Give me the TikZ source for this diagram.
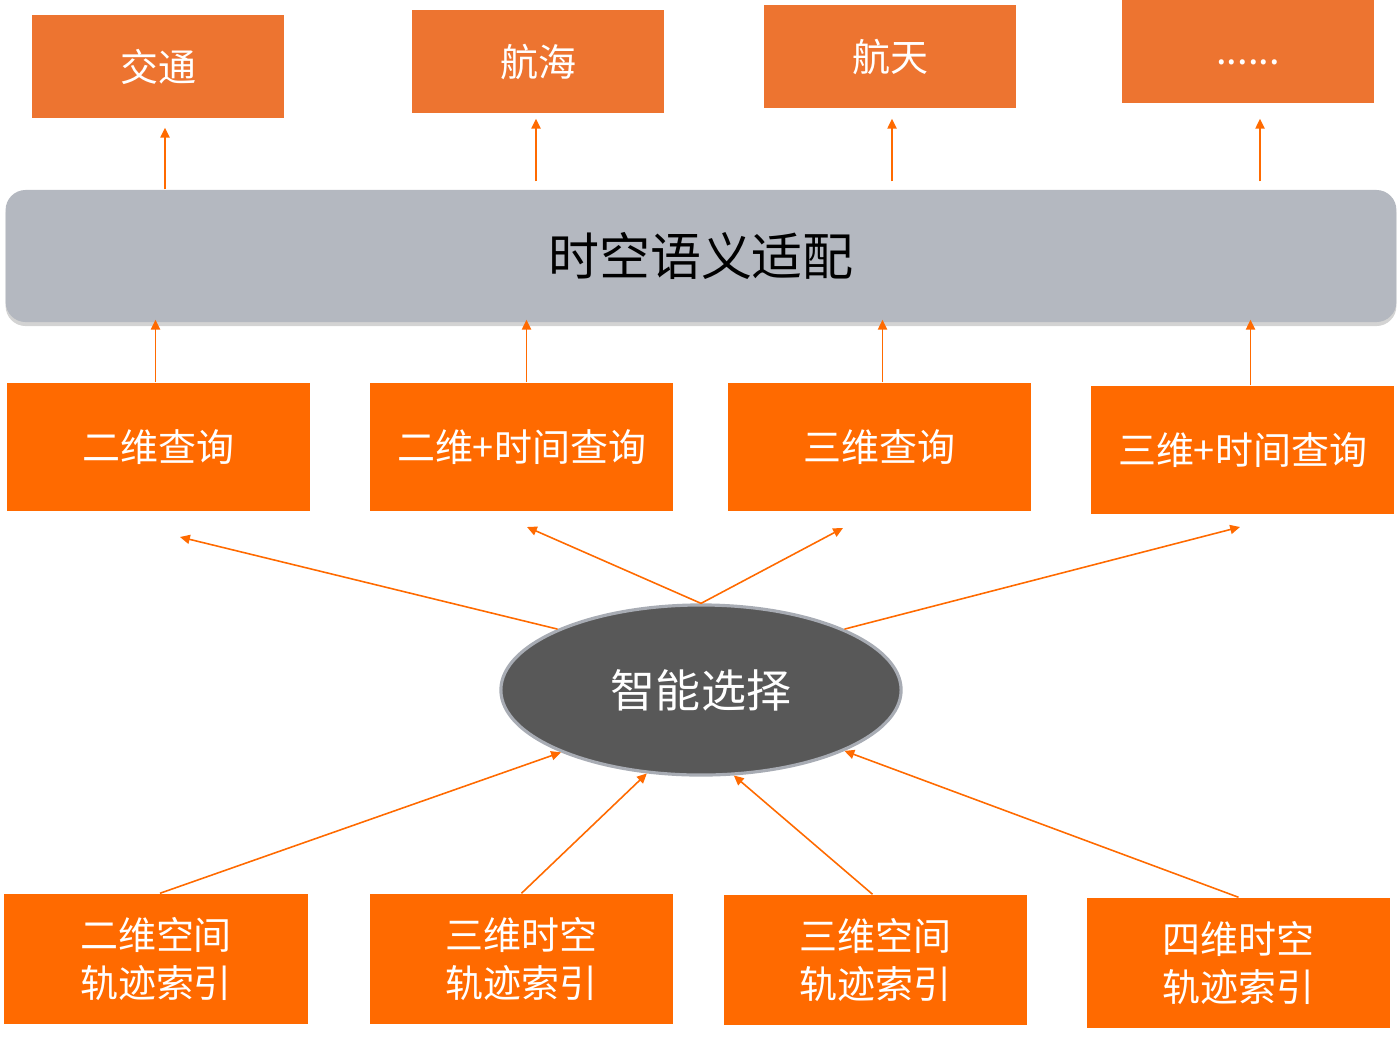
\documentclass[tikz,border=0pt]{standalone}
\usepackage{fontspec}
\newfontfamily\cjk{Noto Sans CJK SC}
\usepackage{xcolor}
\usepackage{tikz}
\usetikzlibrary{arrows.meta,shadows,shapes.geometric}
\definecolor{appor}{HTML}{ED7430}
\definecolor{qor}{HTML}{FF6A00}
\definecolor{bargray}{HTML}{B4B8C0}
\definecolor{selgray}{HTML}{585858}
\definecolor{selrim}{HTML}{A8ACB4}
\tikzset{
  appbox/.style={fill=appor, text=white, inner sep=0pt, minimum width=2.52cm,
    minimum height=1.03cm, font=\cjk\fontsize{10.8}{13}\selectfont},
  qbox/.style={fill=qor, text=white, inner sep=0pt, align=center, minimum width=3.03cm,
    minimum height=1.28cm, font=\cjk\fontsize{10.8}{13.7}\selectfont},
  idxbox/.style={qbox, minimum height=1.3cm},
  adaptbar/.style={fill=bargray, rounded corners=0.2cm, inner sep=0pt, minimum width=13.9cm,
    minimum height=1.32cm, font=\cjk\fontsize{14.5}{17}\selectfont,
    drop shadow={shadow xshift=0pt, shadow yshift=-0.04cm, opacity=0.35}},
  selnode/.style={ellipse, fill=selgray, draw=selrim, line width=0.9pt, inner sep=0pt,
    minimum width=4cm, minimum height=1.7cm, text=white, font=\cjk\fontsize{12.8}{15}\selectfont},
  arr/.style={-{Triangle[length=2.8pt,width=2.6pt]}, line width=0.45pt, draw=qor},
}

\begin{document}
\begin{tikzpicture}[x=0.01cm, y=-0.01cm]
\useasboundingbox (0,0) rectangle (1400,1036);

% application fields
\node[appbox] (t1) at (158,66.5) {交通};
\node[appbox] (t2) at (538,61.5) {航海};
\node[appbox] (t3) at (890,56.5) {航天};
\node[appbox] (t4) at (1248,51.5) {\raisebox{-0.11cm}[\height][\depth]{......}};

\node[adaptbar] (bar) at (701,256) {时空语义适配};

% query types
\node[qbox] (q1) at (158.5,447) {二维查询};
\node[qbox] (q2) at (521.5,447) {二维+时间查询};
\node[qbox] (q3) at (879.5,447) {三维查询};
\node[qbox] (q4) at (1242.5,450) {三维+时间查询};

\node[selnode] (sel) at (701,690) {智能选择};

% trajectory indexes
\node[idxbox] (i1) at (156,959) {二维空间\\轨迹索引};
\node[idxbox] (i2) at (521.5,959) {三维时空\\轨迹索引};
\node[idxbox] (i3) at (875.5,960) {三维空间\\轨迹索引};
\node[idxbox] (i4) at (1238.5,963) {四维时空\\轨迹索引};

\coordinate (q1in) at (180,537);
\coordinate (q2in) at (527,527);
\coordinate (q3in) at (843,528);
\coordinate (q4in) at (1240,527);

\draw[arr, shorten >=0.09cm] ([xshift=0.07cm]t1.south |- bar.north) -- ([xshift=0.07cm]t1.south);
\foreach \t/\dx in {t2/-0.02,t3/0.02,t4/0.12}
  \draw[arr, shorten >=0.05cm, shorten <=0.08cm] ([xshift=\dx cm]\t.south |- bar.north)
    -- ([xshift=\dx cm]\t.south |- t2.south);
\foreach \q/\dx in {q1/-0.03,q2/0.05,q3/0.03,q4/0.08}
  \draw[arr, shorten >=-0.03cm] ([xshift=\dx cm]\q.north) -- ([xshift=\dx cm]\q.north |- bar.south);

\draw[arr] (sel.157) -- (q1in);
\draw[arr] (sel.north) -- (q2in);
\draw[arr] (sel.north) -- (q3in);
\draw[arr] (sel.23) -- (q4in);

\draw[arr] ([xshift=0.04cm]i1.north) -- (sel.204);
\draw[arr] (i2.north) -- (sel.237);
\draw[arr] ([xshift=-0.03cm]i3.north) -- (sel.291);
\draw[arr] (i4.north) -- (sel.337);
\end{tikzpicture}
\end{document}
